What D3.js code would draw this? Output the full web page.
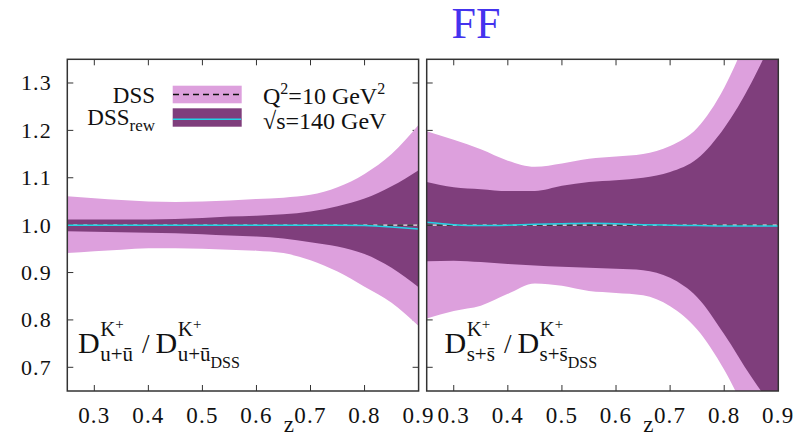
<!DOCTYPE html>
<html>
<head>
<meta charset="utf-8">
<script src="https://cdn.jsdelivr.net/npm/d3@7"></script>
<style>
  html, body { margin: 0; padding: 0; background: #fff; }
  svg { display: block; }
  text { font-family: "Liberation Serif", "Times New Roman", serif; fill: #111; }
</style>
</head>
<body>
<svg id="chart" width="802" height="438"></svg>
<script>
// ---------------- data ----------------
const zGrid = [0.25, 0.30, 0.35, 0.40, 0.45, 0.50, 0.55, 0.60, 0.65, 0.70, 0.75, 0.80, 0.85, 0.90];

// left panel: u + ubar
const uDssHi = [1.061, 1.057, 1.053, 1.050, 1.049, 1.050, 1.052, 1.055, 1.058, 1.064, 1.080, 1.108, 1.150, 1.212];
const uDssLo = [0.941, 0.945, 0.948, 0.951, 0.951, 0.950, 0.948, 0.946, 0.941, 0.926, 0.902, 0.870, 0.836, 0.787];
const uRewHi = [1.012, 1.012, 1.012, 1.012, 1.013, 1.015, 1.018, 1.020, 1.023, 1.029, 1.040, 1.056, 1.082, 1.116];
const uRewLo = [0.987, 0.986, 0.985, 0.984, 0.983, 0.981, 0.978, 0.976, 0.972, 0.964, 0.955, 0.939, 0.910, 0.869];
const uRewC  = [1.000, 1.000, 1.000, 1.000, 1.000, 1.000, 1.000, 1.000, 1.000, 1.000, 1.000, 0.999, 0.996, 0.992];
const uDssC  = [1.000, 1.000, 1.000, 1.000, 1.000, 1.000, 1.000, 1.000, 1.000, 1.000, 1.000, 1.000, 1.000, 1.000];

// right panel: s + sbar
const sDssHi = [1.198, 1.180, 1.160, 1.136, 1.123, 1.130, 1.140, 1.145, 1.150, 1.167, 1.205, 1.290, 1.420, 1.580];
const sDssLo = [0.803, 0.819, 0.830, 0.855, 0.877, 0.872, 0.861, 0.857, 0.852, 0.829, 0.780, 0.695, 0.580, 0.450];
const sRewHi = [1.091, 1.080, 1.076, 1.072, 1.072, 1.083, 1.091, 1.095, 1.100, 1.112, 1.140, 1.205, 1.300, 1.420];
const sRewLo = [0.924, 0.925, 0.922, 0.918, 0.915, 0.912, 0.910, 0.908, 0.905, 0.889, 0.848, 0.770, 0.680, 0.600];
const sRewC  = [1.006, 1.001, 0.999, 1.000, 1.002, 1.003, 1.004, 1.003, 1.001, 1.000, 0.999, 0.998, 0.998, 0.998];
const sDssC  = [1.000, 1.000, 1.000, 1.000, 1.000, 1.000, 1.000, 1.000, 1.000, 1.000, 1.000, 1.000, 1.000, 1.000];

const xTicks = [0.3, 0.4, 0.5, 0.6, 0.7, 0.8, 0.9];
const yTicks = [0.7, 0.8, 0.9, 1.0, 1.1, 1.2, 1.3];
const xDomain = [0.25, 0.9];
const yDomain = [0.65, 1.35];

const title = "FF";
const legendLabels = ["DSS", "DSS"];
const legendSub = "rew";
const flavours = ["u+ū", "s+s\u0304"];

// ---------------- style ----------------
const C_LIGHT = "#dda0dd";
const C_DARK = "#7f3e7c";
const C_CYAN = "#22d3e6";
const C_FRAME = "#333";

const svg = d3.select("#chart");

const panels = [
  { x0: 67.3, x1: 418.6, hi: uDssHi, lo: uDssLo, rhi: uRewHi, rlo: uRewLo, rc: uRewC, dc: uDssC, flav: flavours[0], labelX: 78 },
  { x0: 426.7, x1: 778.3, hi: sDssHi, lo: sDssLo, rhi: sRewHi, rlo: sRewLo, rc: sRewC, dc: sDssC, flav: flavours[1], labelX: 444.5 }
];
const yTop = 59.3, yBot = 391;

const y = d3.scaleLinear().domain(yDomain).range([yBot, yTop]);

// title
svg.append("text").attr("x", 476).attr("y", 38).attr("text-anchor", "middle")
  .style("font-size", "44px").style("fill", "#4433ee").text(title);

panels.forEach((p, i) => {
  const x = d3.scaleLinear().domain(xDomain).range([p.x0, p.x1]);
  const g = svg.append("g");
  const clipId = "clip" + i;
  svg.append("clipPath").attr("id", clipId).append("rect")
    .attr("x", p.x0).attr("y", yTop).attr("width", p.x1 - p.x0).attr("height", yBot - yTop);

  // inner ticks (drawn under the bands)
  const tk = g.append("g").attr("stroke", C_FRAME).attr("stroke-width", 1);
  xTicks.forEach(t => {
    if (t >= 0.9) return;
    tk.append("line").attr("x1", x(t)).attr("x2", x(t)).attr("y1", yBot).attr("y2", yBot - 6);
    tk.append("line").attr("x1", x(t)).attr("x2", x(t)).attr("y1", yTop).attr("y2", yTop + 6);
  });
  yTicks.forEach(t => {
    tk.append("line").attr("x1", p.x0).attr("x2", p.x0 + 6).attr("y1", y(t)).attr("y2", y(t));
    tk.append("line").attr("x1", p.x1).attr("x2", p.x1 - 6).attr("y1", y(t)).attr("y2", y(t));
  });

  const plot = g.append("g").attr("clip-path", `url(#${clipId})`);
  const band = (hi, lo) => d3.area()
    .x((d, k) => x(zGrid[k])).y0((d, k) => y(lo[k])).y1((d, k) => y(hi[k]))
    .curve(d3.curveMonotoneX)(zGrid);
  const line = arr => d3.line().x((d, k) => x(zGrid[k])).y((d, k) => y(arr[k]))
    .curve(d3.curveMonotoneX)(zGrid);

  plot.append("path").attr("d", band(p.hi, p.lo)).attr("fill", C_LIGHT);
  plot.append("path").attr("d", band(p.rhi, p.rlo)).attr("fill", C_DARK);
  plot.append("path").attr("d", line(p.dc)).attr("fill", "none").attr("stroke", "#e8e8e8").attr("stroke-width", 1.4);
  plot.append("path").attr("d", line(p.dc)).attr("fill", "none").attr("stroke", "#111")
    .attr("stroke-width", 1.4).attr("stroke-dasharray", "6,4");
  plot.append("path").attr("d", line(p.rc)).attr("fill", "none").attr("stroke", C_CYAN).attr("stroke-width", 1.5);

  // frame
  g.append("rect").attr("x", p.x0).attr("y", yTop).attr("width", p.x1 - p.x0).attr("height", yBot - yTop)
    .attr("fill", "none").attr("stroke", C_FRAME).attr("stroke-width", 1.5);

  // x tick labels
  xTicks.forEach(t => {
    g.append("text").attr("x", x(t)).attr("y", 423).attr("text-anchor", "middle")
      .style("font-size", "23px").style("letter-spacing", "1.2px").text(t.toFixed(1));
  });
  g.append("text").attr("x", x(0.66)).attr("y", 432).attr("text-anchor", "middle")
    .style("font-size", "23px").text("z");

  // panel label
  const lab = g.append("g");
  let cx = p.labelX;
  const by = 353;
  const put = (txt, xx, yy, size) => lab.append("text").attr("x", xx).attr("y", yy).style("font-size", size + "px").text(txt);
  const D1 = put("D", cx, by, 30);
  cx += D1.node().getComputedTextLength() + 0.5;
  const s1 = lab.append("text").attr("x", cx).attr("y", by - 17).style("font-size", "21px");
  s1.append("tspan").text("K");
  s1.append("tspan").attr("dy", -7).style("font-size", "15px").text("+");
  const b1 = put(p.flav, cx, by + 8, 21);
  cx += Math.max(s1.node().getComputedTextLength(), b1.node().getComputedTextLength()) + 9;
  const sl = put("/", cx, by, 27);
  cx += sl.node().getComputedTextLength() + 6;
  const D2 = put("D", cx, by, 30);
  cx += D2.node().getComputedTextLength() + 0.5;
  const s2 = lab.append("text").attr("x", cx).attr("y", by - 17).style("font-size", "21px");
  s2.append("tspan").text("K");
  s2.append("tspan").attr("dy", -7).style("font-size", "15px").text("+");
  const b2 = put(p.flav, cx, by + 8, 21);
  put("DSS", cx + b2.node().getComputedTextLength(), by + 15, 16);
});

// y tick labels (left)
yTicks.forEach(t => {
  svg.append("text").attr("x", 52).attr("y", y(t) + 7.5).attr("text-anchor", "end")
    .style("font-size", "22px").style("letter-spacing", "1.2px").text(t.toFixed(1));
});

// legend
const lg = svg.append("g");
lg.append("rect").attr("x", 172.7).attr("y", 85.7).attr("width", 69).attr("height", 17.6).attr("fill", C_LIGHT);
lg.append("line").attr("x1", 173).attr("x2", 241).attr("y1", 94.5).attr("y2", 94.5)
  .attr("stroke", "#111").attr("stroke-width", 1.3).attr("stroke-dasharray", "6,4");
lg.append("rect").attr("x", 172.7).attr("y", 108.3).attr("width", 69).attr("height", 18.4).attr("fill", C_DARK);
lg.append("line").attr("x1", 173).attr("x2", 241).attr("y1", 119.2).attr("y2", 119.2)
  .attr("stroke", C_CYAN).attr("stroke-width", 1.5);

lg.append("text").attr("x", 155).attr("y", 103).attr("text-anchor", "end").style("font-size", "23px").text(legendLabels[0]);
const l2 = lg.append("text").attr("x", 155).attr("y", 125).attr("text-anchor", "end").style("font-size", "23px");
l2.append("tspan").text(legendLabels[1]);
l2.append("tspan").attr("dy", 6).style("font-size", "17px").text(legendSub);

const q = lg.append("text").attr("x", 263).attr("y", 104).style("font-size", "24px");
q.append("tspan").text("Q");
q.append("tspan").attr("dy", -10).style("font-size", "16px").text("2");
q.append("tspan").attr("dy", 10).text("=10 GeV");
q.append("tspan").attr("dy", -10).style("font-size", "16px").text("2");
lg.append("text").attr("x", 263).attr("y", 128.5).style("font-size", "24px").text("√s=140 GeV");
</script>
</body>
</html>
